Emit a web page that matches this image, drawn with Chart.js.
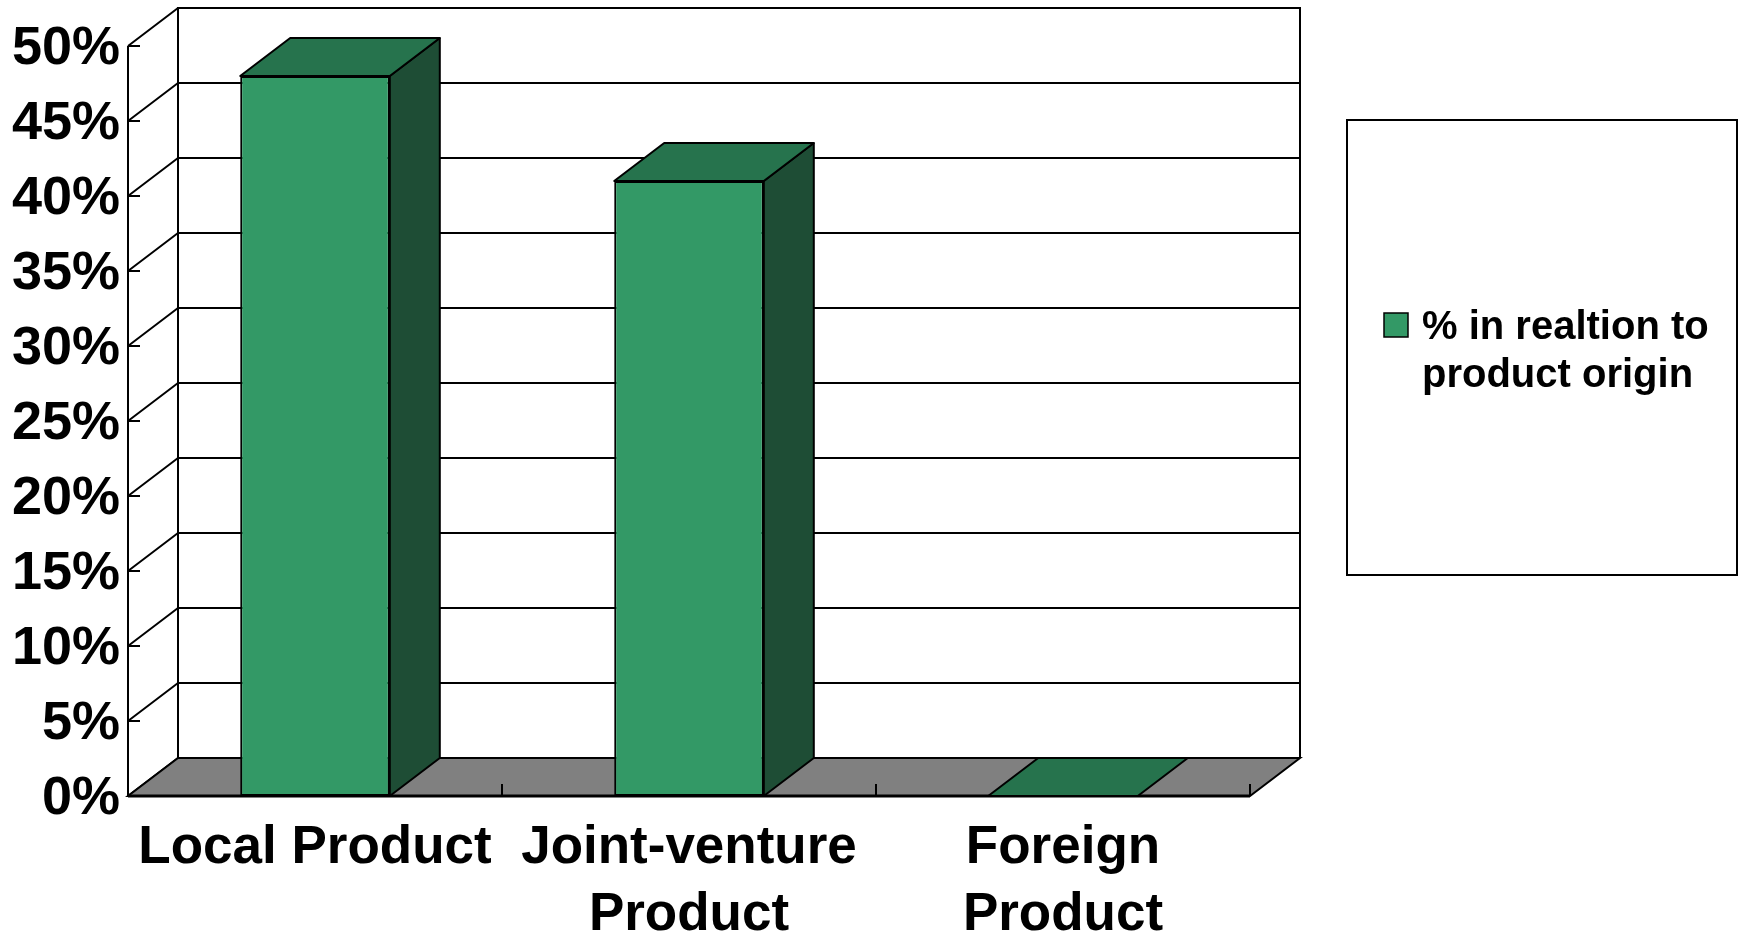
<!DOCTYPE html>
<html>
<head>
<meta charset="utf-8">
<script src="https://cdn.jsdelivr.net/npm/chart.js@4.4.0/dist/chart.umd.min.js"></script>
<style>
  html, body { margin: 0; padding: 0; background: #fff; }
</style>
</head>
<body>
<canvas id="myChart" width="1744" height="938"></canvas>
<script>
// data
const categories = [['Local Product'], ['Joint-venture', 'Product'], ['Foreign', 'Product']];
const shares = [48, 41, 0];
const seriesName = '% in realtion to product origin';
const yMax = 50;
const yStep = 5;

const FRONT = '#339966';
const TOP = '#26734d';
const SIDE = '#1e4d35';
const FLOOR = '#808080';
const DX = 50, DY = 38; // depth offset of the 3d box
const FONT = "'Liberation Sans', Arial, sans-serif";

// draws the back wall, floor and the 3d faces of each bar
const box3d = {
  id: 'box3d',
  beforeDatasetsDraw(chart) {
    const ctx = chart.ctx;
    const {left, right, top, bottom} = chart.chartArea;
    const y = chart.scales.y;
    ctx.save();
    ctx.strokeStyle = '#000';
    ctx.lineWidth = 2;

    // gridlines on the back wall, diagonals on the side wall, small ticks on the front axis
    y.ticks.forEach((t) => {
      const py = y.getPixelForValue(t.value);
      ctx.beginPath();
      ctx.moveTo(left + DX, py - DY);
      ctx.lineTo(right + DX, py - DY);
      ctx.moveTo(left, py);
      ctx.lineTo(left + DX, py - DY);
      ctx.moveTo(left, py);
      ctx.lineTo(left + 12, py);
      ctx.stroke();
    });

    // back wall edges
    ctx.beginPath();
    ctx.moveTo(left + DX, bottom - DY);
    ctx.lineTo(left + DX, top - DY);
    ctx.lineTo(right + DX, top - DY);
    ctx.lineTo(right + DX, bottom - DY);
    ctx.stroke();

    // front axis
    ctx.beginPath();
    ctx.moveTo(left, top);
    ctx.lineTo(left, bottom);
    ctx.stroke();

    // floor
    ctx.beginPath();
    ctx.moveTo(left, bottom);
    ctx.lineTo(right, bottom);
    ctx.lineTo(right + DX, bottom - DY);
    ctx.lineTo(left + DX, bottom - DY);
    ctx.closePath();
    ctx.fillStyle = FLOOR;
    ctx.fill();
    ctx.stroke();
    ctx.lineWidth = 3;
    ctx.beginPath();
    ctx.moveTo(left, bottom);
    ctx.lineTo(right, bottom);
    ctx.stroke();

    // category ticks on the front floor edge
    const x = chart.scales.x;
    const catW = (right - left) / categories.length;
    ctx.lineWidth = 2;
    categories.forEach((c, i) => {
      const px = x.getPixelForValue(i) + catW / 2;
      ctx.beginPath();
      ctx.moveTo(px, bottom);
      ctx.lineTo(px, bottom - 12);
      ctx.stroke();
    });
    ctx.restore();
  },
  afterDatasetsDraw(chart) {
    const ctx = chart.ctx;
    ctx.save();
    ctx.strokeStyle = '#000';
    ctx.lineWidth = 2;
    ctx.lineJoin = 'round';
    chart.getDatasetMeta(0).data.forEach((bar) => {
      const l = bar.x - bar.width / 2;
      const r = bar.x + bar.width / 2;
      const t = bar.y;
      const b = bar.base;
      // side face
      if (b - t > 0.5) {
        ctx.beginPath();
        ctx.moveTo(r, t);
        ctx.lineTo(r + DX, t - DY);
        ctx.lineTo(r + DX, b - DY);
        ctx.lineTo(r, b);
        ctx.closePath();
        ctx.fillStyle = SIDE;
        ctx.fill();
        ctx.stroke();
      }
      // top face
      ctx.beginPath();
      ctx.moveTo(l, t);
      ctx.lineTo(r, t);
      ctx.lineTo(r + DX, t - DY);
      ctx.lineTo(l + DX, t - DY);
      ctx.closePath();
      ctx.fillStyle = TOP;
      ctx.fill();
      ctx.stroke();
    });
    ctx.restore();
  },
  afterDraw(chart) {
    // legend box
    const ctx = chart.ctx;
    ctx.save();
    ctx.strokeStyle = '#000';
    ctx.lineWidth = 2;
    ctx.strokeRect(1347, 120, 390, 455);
    ctx.fillStyle = FRONT;
    ctx.fillRect(1384, 313, 24, 24);
    ctx.lineWidth = 1.5;
    ctx.strokeRect(1384, 313, 24, 24);

    ctx.font = 'bold 40px ' + FONT;
    ctx.fillStyle = '#000';
    ctx.textBaseline = 'alphabetic';
    const words = chart.data.datasets[0].label.split(' ');
    const lines = [];
    let line = '';
    words.forEach((w) => {
      const test = line ? line + ' ' + w : w;
      if (ctx.measureText(test).width > 300 && line) {
        lines.push(line);
        line = w;
      } else {
        line = test;
      }
    });
    lines.push(line);
    lines.forEach((txt, i) => {
      ctx.fillText(txt, 1422, 339 + i * 48);
    });
    ctx.restore();
  }
};

const ctx = document.getElementById('myChart');

new Chart(ctx, {
  type: 'bar',
  data: {
    labels: categories,
    datasets: [
      {
        label: seriesName,
        data: shares,
        backgroundColor: FRONT,
        borderColor: '#000',
        borderWidth: 2,
        borderSkipped: false,
        barPercentage: 0.4,
        categoryPercentage: 1.0,
      },
    ],
  },
  options: {
    responsive: false,
    animation: false,
    events: [],
    layout: {
      padding: { top: 46, right: 494, left: 0, bottom: 0 },
    },
    plugins: {
      legend: { display: false },
      tooltip: { enabled: false },
    },
    scales: {
      x: {
        grid: { display: false, drawTicks: false },
        border: { display: false },
        ticks: {
          color: '#000',
          padding: 18,
          maxRotation: 0,
          autoSkip: false,
          font: { family: FONT, size: 53, weight: 'bold', lineHeight: 1.28 },
        },
        afterFit(scale) { scale.height = 142; },
      },
      y: {
        min: 0,
        max: yMax,
        grid: { display: false, drawTicks: false },
        border: { display: false },
        ticks: {
          stepSize: yStep,
          color: '#000',
          padding: 8,
          labelOffset: 3,
          font: { family: FONT, size: 54, weight: 'bold' },
          callback: (v) => v + '%',
        },
        afterFit(scale) { scale.width = 128; },
      },
    },
  },
  plugins: [box3d],
});
</script>
</body>
</html>
